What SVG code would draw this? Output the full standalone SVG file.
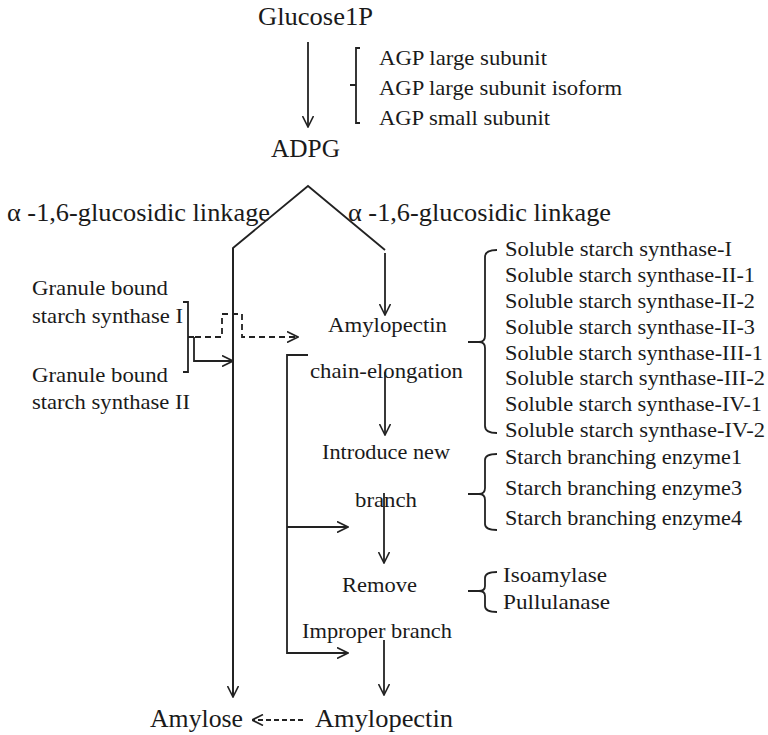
<svg xmlns="http://www.w3.org/2000/svg" width="768" height="735" viewBox="0 0 768 735">
<style>
text{font-family:'Liberation Serif','Times New Roman',serif;fill:#1a1a1a}
.t22{font-size:22px}
.t25{font-size:25px}
.ln{fill:none;stroke:#222;stroke-width:1.8}
.dash{stroke-dasharray:6 4}
.dash2{stroke-dasharray:5 3}
</style>
<defs>
<marker id="ah" viewBox="0 0 12 12" refX="11.5" refY="6" markerWidth="12" markerHeight="12" markerUnits="userSpaceOnUse" orient="auto">
<path d="M0.5,0.5 L11.5,6 L0.5,11.5" fill="none" stroke="#222" stroke-width="1.6"/>
</marker>
</defs>
<rect width="768" height="735" fill="#fff"/>
<g font-family="Liberation Serif, Times New Roman, serif">
<g id="glucose1p"><text class="t25" x="258" y="25" textLength="115" lengthAdjust="spacingAndGlyphs">Glucose1P</text></g>
<g id="agp">
<text class="t22" x="379" y="65" textLength="168" lengthAdjust="spacingAndGlyphs">AGP large subunit</text>
<text class="t22" x="379" y="95" textLength="243" lengthAdjust="spacingAndGlyphs">AGP large subunit isoform</text>
<text class="t22" x="379" y="125" textLength="171" lengthAdjust="spacingAndGlyphs">AGP small subunit</text>
</g>
<g id="adpg"><text class="t25" x="271" y="157" textLength="69" lengthAdjust="spacingAndGlyphs">ADPG</text></g>
<g id="linkage-left"><text class="t25" x="7" y="221" textLength="263" lengthAdjust="spacingAndGlyphs">α -1,6-glucosidic linkage</text></g>
<g id="linkage-right"><text class="t25" x="348" y="221" textLength="263" lengthAdjust="spacingAndGlyphs">α -1,6-glucosidic linkage</text></g>
<g id="gbss">
<text class="t22" x="32" y="295" textLength="136" lengthAdjust="spacingAndGlyphs">Granule bound</text>
<text class="t22" x="32" y="323" textLength="151" lengthAdjust="spacingAndGlyphs">starch synthase I</text>
<text class="t22" x="32" y="382" textLength="136" lengthAdjust="spacingAndGlyphs">Granule bound</text>
<text class="t22" x="32" y="409" textLength="158" lengthAdjust="spacingAndGlyphs">starch synthase II</text>
</g>
<g id="amylopectin1"><text class="t22" x="328" y="332" textLength="119" lengthAdjust="spacingAndGlyphs">Amylopectin</text></g>
<g id="chain-elongation"><text class="t22" x="310" y="378" textLength="153" lengthAdjust="spacingAndGlyphs">chain-elongation</text></g>
<g id="introduce"><text class="t22" x="322" y="459" textLength="128" lengthAdjust="spacingAndGlyphs">Introduce new</text></g>
<g id="branch"><text class="t22" x="355" y="507" textLength="62" lengthAdjust="spacingAndGlyphs">branch</text></g>
<g id="remove"><text class="t22" x="342" y="592" textLength="75" lengthAdjust="spacingAndGlyphs">Remove</text></g>
<g id="improper"><text class="t22" x="302" y="638" textLength="150" lengthAdjust="spacingAndGlyphs">Improper branch</text></g>
<g id="ss">
<text class="t22" x="505" y="256" textLength="227" lengthAdjust="spacingAndGlyphs">Soluble starch synthase-I</text>
<text class="t22" x="505" y="282" textLength="250" lengthAdjust="spacingAndGlyphs">Soluble starch synthase-II-1</text>
<text class="t22" x="505" y="308" textLength="250" lengthAdjust="spacingAndGlyphs">Soluble starch synthase-II-2</text>
<text class="t22" x="505" y="334" textLength="250" lengthAdjust="spacingAndGlyphs">Soluble starch synthase-II-3</text>
<text class="t22" x="505" y="360" textLength="258" lengthAdjust="spacingAndGlyphs">Soluble starch synthase-III-1</text>
<text class="t22" x="505" y="385" textLength="260" lengthAdjust="spacingAndGlyphs">Soluble starch synthase-III-2</text>
<text class="t22" x="505" y="411" textLength="257" lengthAdjust="spacingAndGlyphs">Soluble starch synthase-IV-1</text>
<text class="t22" x="505" y="437" textLength="260" lengthAdjust="spacingAndGlyphs">Soluble starch synthase-IV-2</text>
</g>
<g id="sbe">
<text class="t22" x="505" y="464" textLength="237" lengthAdjust="spacingAndGlyphs">Starch branching enzyme1</text>
<text class="t22" x="505" y="495" textLength="237" lengthAdjust="spacingAndGlyphs">Starch branching enzyme3</text>
<text class="t22" x="505" y="525" textLength="237" lengthAdjust="spacingAndGlyphs">Starch branching enzyme4</text>
</g>
<g id="debranch">
<text class="t22" x="503" y="582" textLength="104" lengthAdjust="spacingAndGlyphs">Isoamylase</text>
<text class="t22" x="503" y="609" textLength="107" lengthAdjust="spacingAndGlyphs">Pullulanase</text>
</g>
<g id="amylose"><text class="t25" x="150" y="727" textLength="93" lengthAdjust="spacingAndGlyphs">Amylose</text></g>
<g id="amylopectin2"><text class="t25" x="315" y="727" textLength="138" lengthAdjust="spacingAndGlyphs">Amylopectin</text></g>
</g>
<g id="connectors">
<line class="ln" x1="308" y1="42" x2="308" y2="127" marker-end="url(#ah)"/>
<path class="ln" d="M360,48 H356 V123 H360 M356,85 H350"/>
<path class="ln" d="M233,697 V248 L308,186 L385,250"/>
<line class="ln" x1="233" y1="248" x2="233" y2="697" marker-end="url(#ah)"/>
<line class="ln" x1="385" y1="253" x2="385" y2="315" marker-end="url(#ah)"/>
<path class="ln" d="M183,302 H188 V372 H183 M188,337 H194"/>
<path class="ln" d="M194,337 V361 H233" marker-end="url(#ah)"/>
<path class="ln dash" d="M195,337 H222 V314 H242 V337 H298" marker-end="url(#ah)"/>
<path class="ln" d="M308,355 H287 V653 H348" marker-end="url(#ah)"/>
<line class="ln" x1="287" y1="527" x2="348" y2="527" marker-end="url(#ah)"/>
<line class="ln" x1="385" y1="372" x2="385" y2="435" marker-end="url(#ah)"/>
<line class="ln" x1="384" y1="493" x2="384" y2="563" marker-end="url(#ah)"/>
<line class="ln" x1="384" y1="640" x2="384" y2="695" marker-end="url(#ah)"/>
<line class="ln dash2" x1="303" y1="720" x2="252" y2="720" marker-end="url(#ah)"/>
<path class="ln" d="M497,250 Q485,250 485,257 V336 Q485,342 479,342 H468 M479,342 Q485,342 485,348 V426 Q485,433 497,433"/>
<path class="ln" d="M497,454 Q485,454 485,460 V488 Q485,494 479,494 H468 M479,494 Q485,494 485,500 V524 Q485,530 497,530"/>
<path class="ln" d="M497,572 Q485,572 485,578 V586 Q485,591 479,591 H468 M479,591 Q485,591 485,596 V606 Q485,612 497,612"/>
</g>
</svg>
